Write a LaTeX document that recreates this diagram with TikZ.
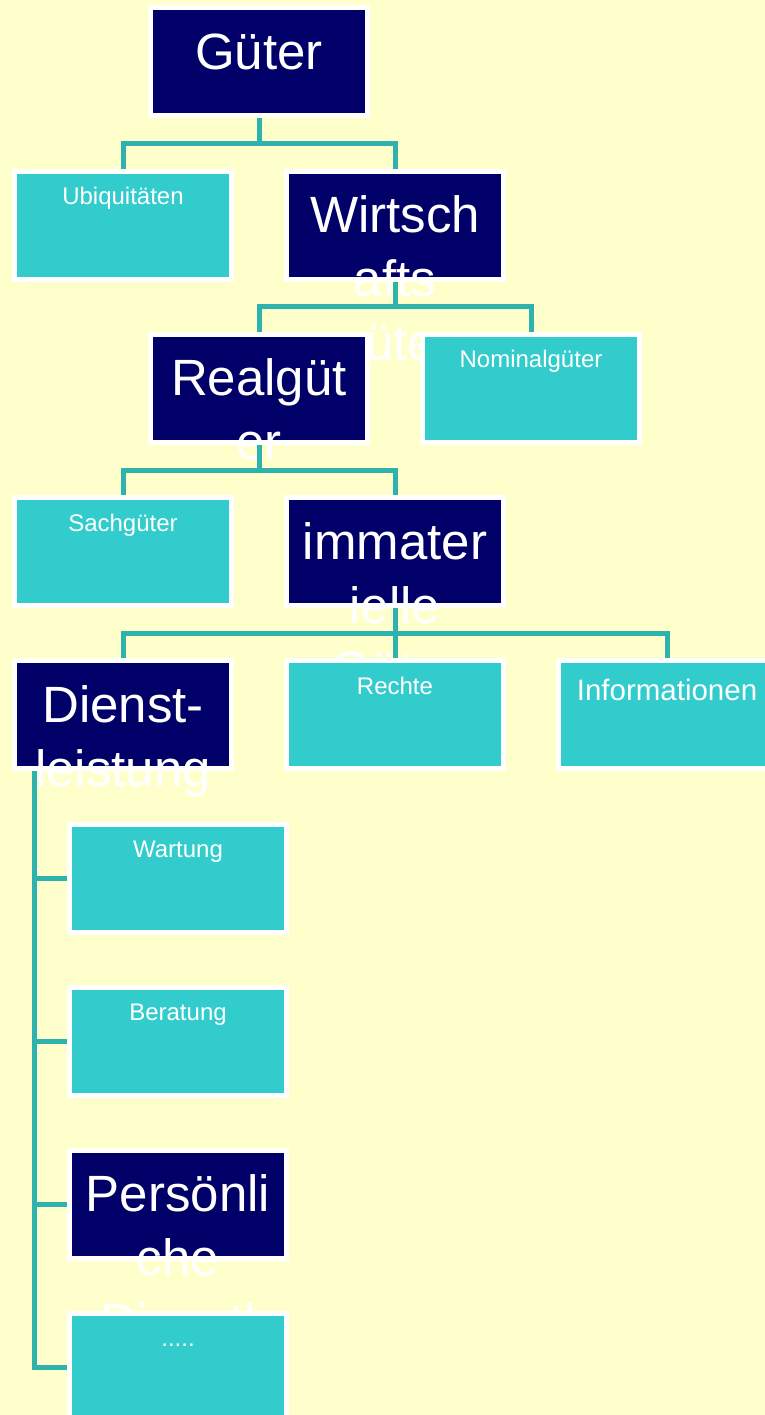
\documentclass[tikz,border=0pt]{standalone}
\usepackage{fontspec}
\setmainfont{Liberation Sans}
\definecolor{paper}{HTML}{FFFFCC}
\definecolor{navybox}{HTML}{000068}
\definecolor{aquabox}{HTML}{33CCCC}
\definecolor{linkteal}{HTML}{2EB2AE}
\begin{document}
\begin{tikzpicture}[x=1pt,y=-1pt,
  box/.style={rectangle, draw=white, line width=5pt, minimum width=217pt,
    minimum height=108pt, inner sep=0pt, outer sep=2.5pt},
  darkbox/.style={box, fill=navybox},
  lightbox/.style={box, fill=aquabox},
  bigtext/.style={text=white, font=\fontsize{51}{61}\selectfont, anchor=base,
    inner sep=0pt, outer sep=0pt},
  smalltext/.style={text=white, font=\fontsize{24}{29}\selectfont, anchor=base,
    inner sep=0pt, outer sep=0pt},
  midtext/.style={smalltext, font=\fontsize{29.5}{35}\selectfont},
  link/.style={draw=linkteal, line width=5pt}]
\useasboundingbox (0,0) rectangle (765,1415);
\fill[paper] (0,0) rectangle (765,1415);
\clip (0,0) rectangle (765,1415);

% level 1
\node[darkbox] (gueter) at (259,62) {};
\node[bigtext] (gueterA) at ([yshift=-64pt]gueter.north) {Güter};

% level 2
\node[lightbox] (ubiq) at (123,225.2) {};
\node[smalltext] (ubiqA) at ([yshift=-36pt]ubiq.north) {Ubiquitäten};
\node[darkbox] (wirt) at (395,225.2) {};
\node[bigtext] (wirtA) at ([yshift=-64pt]wirt.north) {Wirtsch};
\node[bigtext] (wirtB) at ([yshift=-128pt]wirt.north) {afts};
\node[bigtext] (wirtC) at ([yshift=-192pt]wirt.north) {güter};

% level 3
\node[darkbox] (realg) at (259,388.4) {};
\node[bigtext] (realgA) at ([yshift=-64pt]realg.north) {Realgüt};
\node[bigtext] (realgB) at ([yshift=-128pt]realg.north) {er};
\node[lightbox] (nominal) at (531,388.4) {};
\node[smalltext] (nominalA) at ([yshift=-36pt]nominal.north) {Nominalgüter};

% level 4
\node[lightbox] (sach) at (123,551.6) {};
\node[smalltext] (sachA) at ([yshift=-36pt]sach.north) {Sachgüter};
\node[darkbox] (immat) at (395,551.6) {};
\node[bigtext] (immatA) at ([yshift=-64pt]immat.north) {immater};
\node[bigtext] (immatB) at ([yshift=-128pt]immat.north) {ielle};
\node[bigtext] (immatC) at ([yshift=-192pt]immat.north) {Güter};

% level 5
\node[darkbox] (dienst) at (123,714.8) {};
\node[bigtext] (dienstA) at ([yshift=-64pt]dienst.north) {Dienst-};
\node[bigtext] (dienstB) at ([yshift=-128pt]dienst.north) {leistung};
\node[lightbox] (rechte) at (395,714.8) {};
\node[smalltext] (rechteA) at ([yshift=-36pt]rechte.north) {Rechte};
\node[lightbox] (info) at (667,714.8) {};
\node[midtext] (infoA) at ([yshift=-42pt]info.north) {Informationen};

% services, hanging from a spine
\node[lightbox] (wartung) at (178,878) {};
\node[smalltext] (wartungA) at ([yshift=-36pt]wartung.north) {Wartung};
\node[lightbox] (beratung) at (178,1041.2) {};
\node[smalltext] (beratungA) at ([yshift=-36pt]beratung.north) {Beratung};
\node[darkbox] (pers) at (178,1204.4) {};
\node[bigtext] (persA) at ([yshift=-64pt]pers.north) {Persönli};
\node[bigtext] (persB) at ([yshift=-128pt]pers.north) {che};
\node[bigtext] (persC) at ([yshift=-192pt]pers.north) {Dienstl};
\node[lightbox] (more) at (178,1367.6) {};
\node[smalltext] (moreA) at ([yshift=-35pt]more.north) {.....};

% connectors
\draw[link] (gueter.south) -- ++(0,25.1);
\draw[link] (ubiq.north) -- ++(0,-25.1) -| (wirt.north);
\draw[link] (wirt.south) -- ++(0,25.1);
\draw[link] (realg.north) -- ++(0,-25.1) -| (nominal.north);
\draw[link] (realg.south) -- ++(0,25.1);
\draw[link] (sach.north) -- ++(0,-25.1) -| (immat.north);
\draw[link] (immat.south) -- ++(0,25.1);
\draw[link] (dienst.north) -- ++(0,-25.1) -| (info.north);
\draw[link] (rechte.north) -- ++(0,-25.1);
\draw[link] (dienst.south west) ++(22.5,0) coordinate (spine) |- (wartung.west);
\draw[link] (spine) |- (beratung.west);
\draw[link] (spine) |- (pers.west);
\draw[link] (spine) |- (more.west);
\end{tikzpicture}
\end{document}
